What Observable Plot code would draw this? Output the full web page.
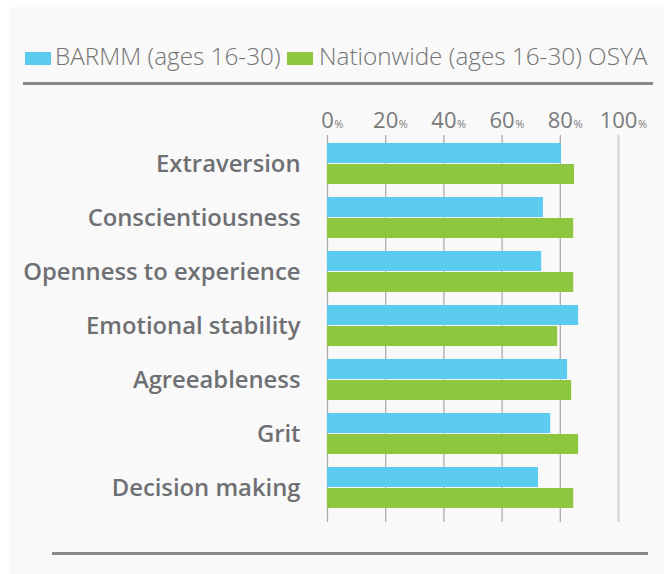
<!DOCTYPE html>
<html><head><meta charset="utf-8">
<script src="https://cdn.jsdelivr.net/npm/d3@7"></script>
<script src="https://cdn.jsdelivr.net/npm/@observablehq/plot@0.6"></script>
<style>
html,body{margin:0;padding:0;background:#fff;width:664px;height:574px;overflow:hidden;font-family:"Open Sans",sans-serif;}
#panel{position:absolute;left:9px;top:7px;width:655px;height:567px;background:#f9f9f9;}
.sw{position:absolute;top:52px;width:26px;height:13px;}
.lt{position:absolute;top:43.7px;font-size:24.3px;line-height:24px;font-weight:300;color:#747474;white-space:nowrap;}
.rule{position:absolute;height:3px;background:#8a8a8a;}
#chart{position:absolute;left:0;top:95px;}
</style></head><body>
<div id="panel"></div>
<div id="legend"></div>
<div class="rule" style="left:23px;width:630px;top:82px;"></div>
<div id="chart"></div>
<div class="rule" style="left:52px;width:596px;top:552px;"></div>
<script>
const categories = ["Extraversion","Conscientiousness","Openness to experience","Emotional stability","Agreeableness","Grit","Decision making"];
const barmm = [80.4, 74.2, 73.6, 86.3, 82.5, 76.7, 72.5];
const nationwide = [84.9, 84.6, 84.6, 79.1, 83.9, 86.3, 84.6];
const seriesNames = ["BARMM (ages 16-30)", "Nationwide (ages 16-30) OSYA"];
const seriesColors = ["#5bcbef", "#8dc63f"];
const xTicks = [0, 20, 40, 60, 80, 100];

// legend
const legend = document.getElementById("legend");
const swX = [25, 287];
const txtX = [55, 319];
seriesNames.forEach((name, i) => {
  const sw = document.createElement("div");
  sw.className = "sw"; sw.style.left = swX[i] + "px"; sw.style.background = seriesColors[i];
  const t = document.createElement("div");
  t.className = "lt"; t.style.left = txtX[i] + "px"; t.textContent = name;
  legend.appendChild(sw); legend.appendChild(t);
});

const rowsA = categories.map((c, i) => ({category: c, value: barmm[i]}));
const rowsB = categories.map((c, i) => ({category: c, value: nationwide[i]}));

const chart = Plot.plot({
  width: 664, height: 470,
  marginLeft: 327, marginRight: 46, marginTop: 40, marginBottom: 43,
  style: {background: "transparent", overflow: "visible", fontFamily: "'Open Sans', sans-serif"},
  x: {domain: [0, 100], axis: null},
  y: {domain: categories, paddingInner: 0.234, paddingOuter: 0.148, align: 0.37, axis: null},
  marks: [
    Plot.ruleX(xTicks.filter(d => d < 100), {stroke: "#ababab", strokeWidth: 1.3}),
    Plot.ruleX(xTicks.filter(d => d === 100), {stroke: "#d0d0d0", strokeWidth: 2}),
    Plot.barX(rowsA, {x: "value", y: "category", fill: seriesColors[0], insetBottom: 21}),
    Plot.barX(rowsB, {x: "value", y: "category", fill: seriesColors[1], insetTop: 21}),
    Plot.axisX({anchor: "top", ticks: xTicks, tickSize: 0, tickPadding: 8, tickFormat: d => String(d), fontSize: 22, fontWeight: 400, color: "#7a7a7a", label: null}),
    ...xTicks.map(t => Plot.text([t], {x: d => d, frameAnchor: "top", lineAnchor: "bottom", text: () => "%", textAnchor: "start", dx: String(t).length * 6.3 + 0.5, dy: -8, fontSize: 11, fontWeight: 400, fill: "#7a7a7a"})),
    Plot.axisY({tickSize: 0, tickPadding: 27, fontSize: 23.8, fontWeight: 600, color: "#6f7073", label: null})
  ]
});
document.getElementById("chart").appendChild(chart);
</script>
</body></html>
